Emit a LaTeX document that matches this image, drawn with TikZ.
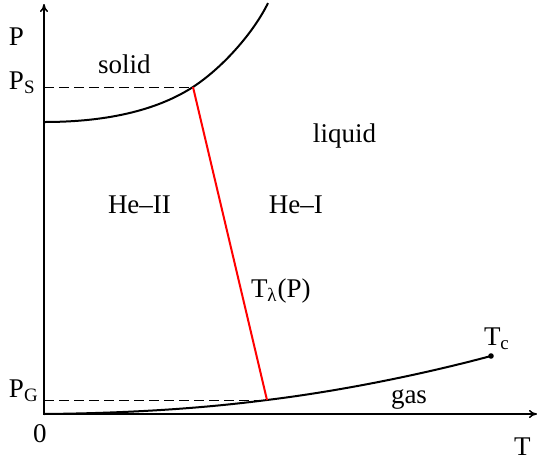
\documentclass[tikz,border=0pt]{standalone}
\usepackage{fontspec}
\setmainfont{Liberation Serif}
\usetikzlibrary{arrows.meta}
\definecolor{lambdared}{RGB}{255,0,0}

\begin{document}
\begin{tikzpicture}[x=0.5pt,y=-0.5pt,line width=1pt,>={To[length=4pt,width=4pt]},
    lbl/.style={anchor=base west,inner sep=0pt,font=\fontsize{13.5}{16}\selectfont}]
  \useasboundingbox (0,0) rectangle (537,462);
  \coordinate (O) at (44,414);
  \coordinate (Ptop) at (44,4);
  \coordinate (Tend) at (537,414);
  \coordinate (S0) at (44,122);
  \coordinate (S) at (193,87);
  \coordinate (S1) at (268,3);
  \coordinate (G) at (267,400);
  \coordinate (C) at (491,356);
  \coordinate (PS) at (44,87);
  \coordinate (PG) at (44,400);
  \draw[line width=0.75pt,<->] (Ptop) -- (O) -- (Tend);
  \draw[line width=0.5pt,dash pattern=on 5pt off 2.5pt] (PS) -- (S);
  \draw[line width=0.5pt,dash pattern=on 5pt off 2.5pt] (PG) -- (G);
  \draw (S0) .. controls (120,122) and (165,105) .. (S) .. controls (225,66) and (255,30) .. (S1);
  \draw (O) .. controls (150,413) and (220,406) .. (G) .. controls (340,391) and (420,375) .. (C);
  \fill (C) circle (2.8);
  \draw[lambdared] (S) -- (G);
  \node[lbl] (pLabel) at (8,45) {P};
  \node[lbl] (psLabel) at (8,89) {P\textsubscript{S}};
  \node[lbl] (pgLabel) at (8,397) {P\textsubscript{G}};
  \node[lbl] (zero) at (32,442) {0};
  \node[lbl] (tLabel) at (513,455) {T};
  \node[lbl] (solid) at (97,73) {solid};
  \node[lbl] (liquid) at (312,142) {liquid};
  \node[lbl] (heII) at (107,213) {He--II};
  \node[lbl] (heI) at (268,213) {He--I};
  \node[lbl] (tlambda) at (250,297) {T\textsubscript{λ}(P)};
  \node[lbl] (tc) at (483,345) {T\textsubscript{c}};
  \node[lbl] (gas) at (390,403) {gas};
\end{tikzpicture}
\end{document}
